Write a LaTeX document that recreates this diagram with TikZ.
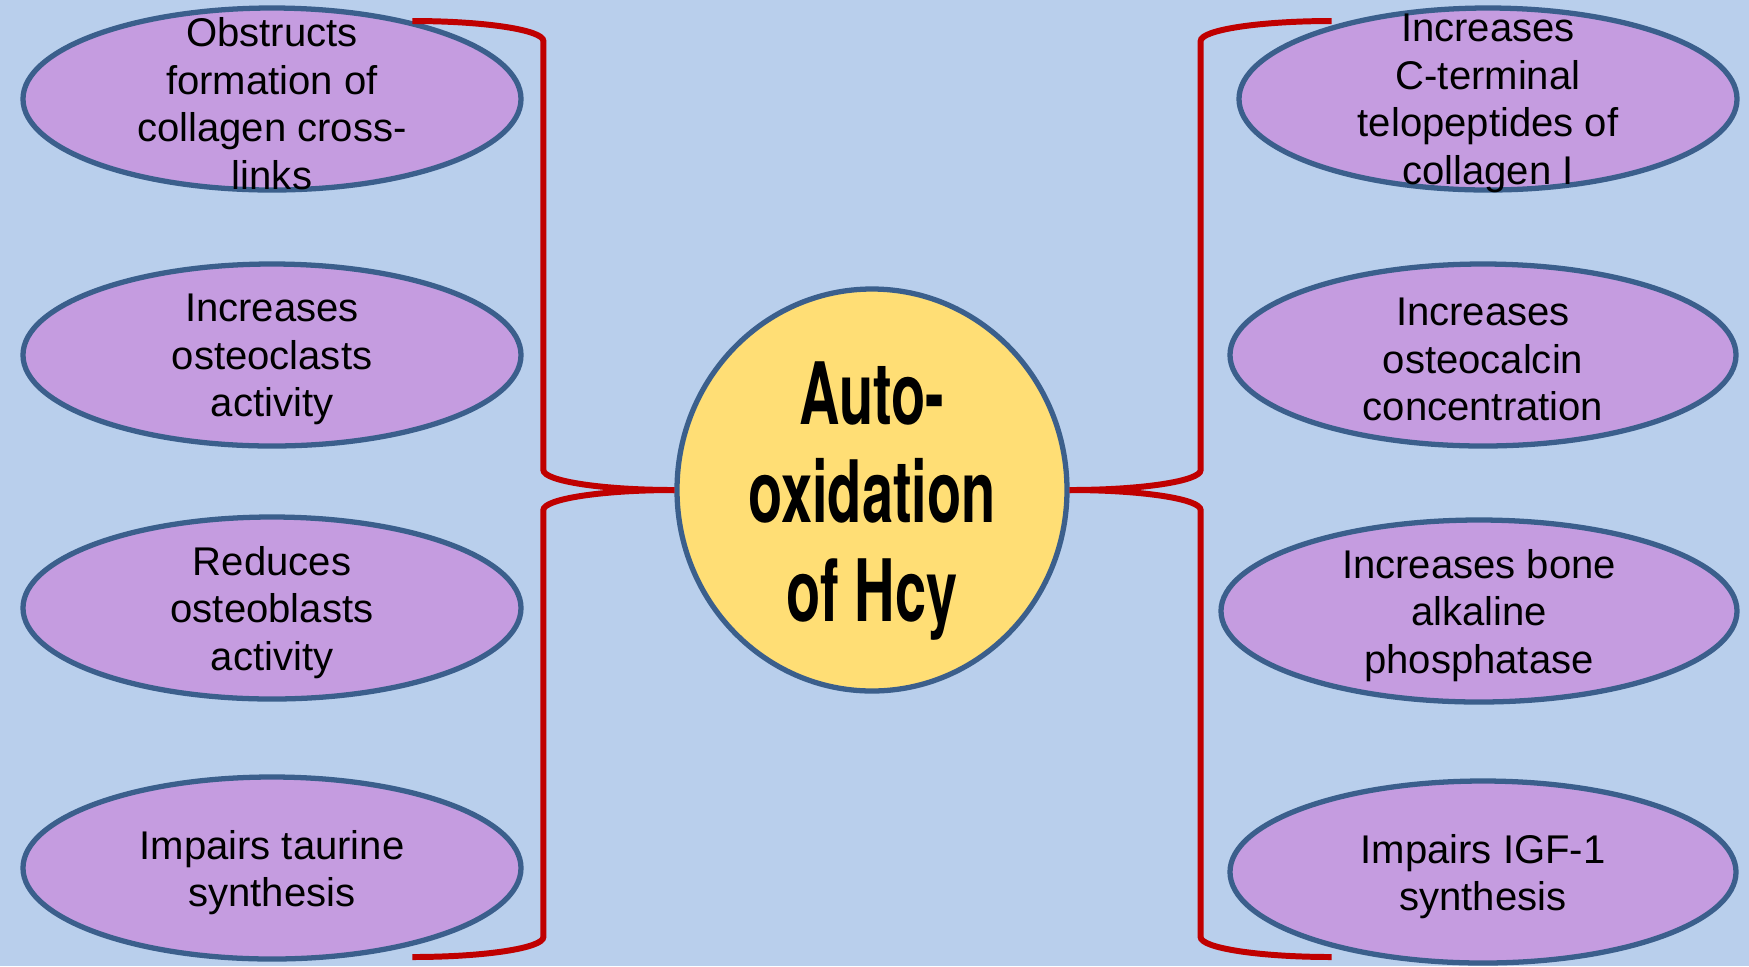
\documentclass[tikz,border=0pt]{standalone}
\usepackage{fontspec}
\setmainfont{Liberation Sans}
\newfontfamily\hubfont{TeX Gyre Heros}[FakeStretch=0.65]
\usetikzlibrary{shapes.geometric}

\definecolor{bgblue}{RGB}{185,207,236}
\definecolor{lilac}{RGB}{197,156,224}
\definecolor{rim}{RGB}{59,95,140}
\definecolor{gold}{RGB}{255,222,117}
\definecolor{bracered}{RGB}{192,0,0}

\begin{document}
\begin{tikzpicture}[
        effect/.style={ellipse,draw=rim,fill=lilac,line width=1.5pt,minimum width=4.98cm,minimum height=1.82cm,inner sep=0pt},
        txt/.style={align=center,text=black,yshift=-0.045cm,font=\fontsize{11.4}{13.5}\selectfont},
        hub/.style={ellipse,draw=rim,fill=gold,line width=1.5pt,minimum width=3.9cm,minimum height=4.02cm,inner sep=0pt},
        hubtxt/.style={align=center,text=black,yshift=-0.11cm,font=\hubfont\bfseries\fontsize{24.5}{27.9}\selectfont},
        brace/.style={draw=bracered,line width=1.7pt}]

    % Background
    \fill[bgblue] (0,0) rectangle (17.49,-9.66);
    \useasboundingbox (0,0) rectangle (17.49,-9.66);

    % Centre
    \node[hub,label={[hubtxt]center:Auto-\\oxidation\\of Hcy}] (hub) at (8.72,-4.90) {};

    % Left effects
    \node[effect,label={[txt]center:Obstructs\\formation of\\collagen cross-\\links}] (l1) at (2.72,-0.99) {};
    \node[effect,label={[txt]center:Increases\\osteoclasts\\activity}] (l2) at (2.72,-3.55) {};
    \node[effect,label={[txt]center:Reduces\\osteoblasts\\activity}] (l3) at (2.72,-6.08) {};
    \node[effect,label={[txt]center:Impairs taurine\\synthesis}] (l4) at (2.72,-8.68) {};

    % Right effects
    \node[effect,label={[txt]center:Increases\\C-terminal\\telopeptides of\\collagen I}] (r1) at (14.88,-0.99) {};
    \node[effect,minimum width=5.06cm,label={[txt]center:Increases\\osteocalcin\\concentration}] (r2) at (14.83,-3.55) {};
    \node[effect,minimum width=5.16cm,label={[txt]center:Increases bone\\alkaline\\phosphatase}] (r3) at (14.79,-6.11) {};
    \node[effect,minimum width=5.06cm,label={[txt]center:Impairs IGF-1\\synthesis}] (r4) at (14.83,-8.72) {};

    % Braces
    \draw[brace] (hub.west) arc[start angle=270,end angle=180,x radius=1.31,y radius=0.2]
        -- ++(0,4.29) arc[start angle=0,end angle=90,x radius=1.31,y radius=0.2];
    \draw[brace] (hub.west) arc[start angle=90,end angle=180,x radius=1.31,y radius=0.2]
        -- ++(0,-4.27) arc[start angle=0,end angle=-90,x radius=1.31,y radius=0.2];
    \draw[brace] (hub.east) arc[start angle=270,end angle=360,x radius=1.31,y radius=0.2]
        -- ++(0,4.29) arc[start angle=180,end angle=90,x radius=1.31,y radius=0.2];
    \draw[brace] (hub.east) arc[start angle=90,end angle=0,x radius=1.31,y radius=0.2]
        -- ++(0,-4.27) arc[start angle=180,end angle=270,x radius=1.31,y radius=0.2];

\end{tikzpicture}
\end{document}
